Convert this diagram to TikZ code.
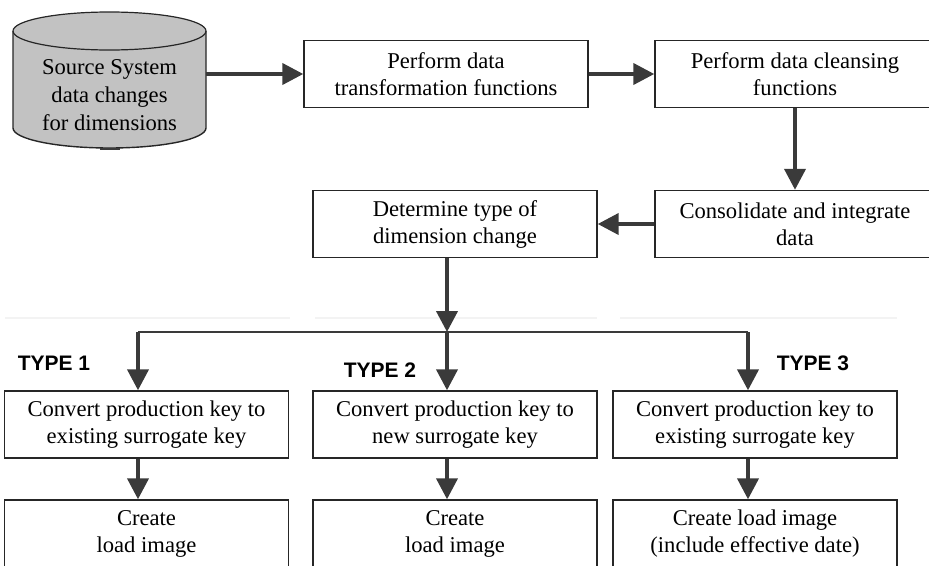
\documentclass[tikz,border=0pt]{standalone}
\usepackage{fontspec}
\setmainfont{Liberation Serif}
\newfontfamily\typefont{Liberation Sans}
\usetikzlibrary{arrows.meta,positioning,calc}
\definecolor{flowGray}{RGB}{58,58,58}
\definecolor{drumGray}{RGB}{194,194,194}
\definecolor{edgeGray}{RGB}{38,38,38}
\definecolor{ruleGray}{RGB}{243,243,243}
\tikzset{
  stepbox/.style={draw=edgeGray,line width=1.4pt,fill=white,minimum width=284pt,
    minimum height=67pt,inner sep=0pt,align=center,font=\fontsize{22.6}{27}\selectfont},
  flow/.style={draw=flowGray,line width=4pt,-{Triangle[length=21pt,width=21pt]}},
  bus/.style={draw=flowGray,line width=1.8pt},
  typelbl/.style={font=\typefont\bfseries\fontsize{21}{25}\selectfont,inner sep=0pt}
}

\begin{document}
\begin{tikzpicture}[x=1pt,y=-1pt]
  \useasboundingbox (0,0) rectangle (929,565);
  % faint rules behind the fork
  \foreach \a/\b in {5/290,315/597,620/897}
    \draw[ruleGray,line width=1.5pt] (\a,318) -- (\b,318);
  % source drum
  \fill[drumGray] (13,31) -- (13,128)
    arc[start angle=180,end angle=360,x radius=96.5pt,y radius=20pt] -- (206,31)
    arc[start angle=0,end angle=180,x radius=96.5pt,y radius=19pt] -- cycle;
  \draw[edgeGray,line width=1.4pt] (13,31) -- (13,128)
    arc[start angle=180,end angle=360,x radius=96.5pt,y radius=20pt] -- (206,31);
  \draw[edgeGray,line width=1.2pt] (109.5,31) ellipse[x radius=96.5pt,y radius=19pt];
  \draw[flowGray,line width=2.5pt] (100,149) -- (120,149);
  \node[align=center,inner sep=0pt,font=\fontsize{22.6}{28}\selectfont] (src) at (109.5,95)
    {Source System\\data changes\\for dimensions};
  \coordinate (srcout) at (206,74);
  % top chain
  \node[stepbox] (trans) at (446,74) {Perform data\\transformation functions};
  \node[stepbox,minimum width=280pt] (cleanse) at (795,74) {Perform data cleansing\\functions};
  \node[stepbox,minimum width=280pt] (consol) at (795,224) {Consolidate and integrate\\data};
  \node[stepbox] (dtype) at (455,224) {Determine type of\\dimension change};
  \draw[flow] (srcout) -- (trans);
  \draw[flow] (trans) -- (cleanse);
  \draw[flow] (cleanse) -- (consol);
  \draw[flow] (consol) -- (dtype);
  % three kinds of change
  \node[stepbox] (conv1) at (146.5,424.5) {Convert production key to\\existing surrogate key};
  \node[stepbox] (conv2) at (455,424.5) {Convert production key to\\new surrogate key};
  \node[stepbox] (conv3) at (755,424.5) {Convert production key to\\existing surrogate key};
  \node[stepbox] (make1) at (146.5,533.5) {Create\\load image};
  \node[stepbox] (make2) at (455,533.5) {Create\\load image};
  \node[stepbox] (make3) at (755,533.5) {Create load image\\(include effective date)};
  \node[typelbl] (type1) at (54,363) {TYPE 1};
  \node[typelbl] (type2) at (380,370) {TYPE 2};
  \node[typelbl] (type3) at (813,363) {TYPE 3};
  \foreach \n/\ax in {1/138,2/447,3/748}
    \coordinate (col\n) at (\ax,332);
  \draw[bus] (col1) -- (col3);
  \draw[flow] (dtype.south -| col2) -- (col2);
  \foreach \n in {1,2,3}{
    \draw[flow] (col\n) -- (conv\n.north -| col\n);
    \draw[flow] (conv\n.south -| col\n) -- (make\n.north -| col\n);
  }
\end{tikzpicture}
\end{document}
